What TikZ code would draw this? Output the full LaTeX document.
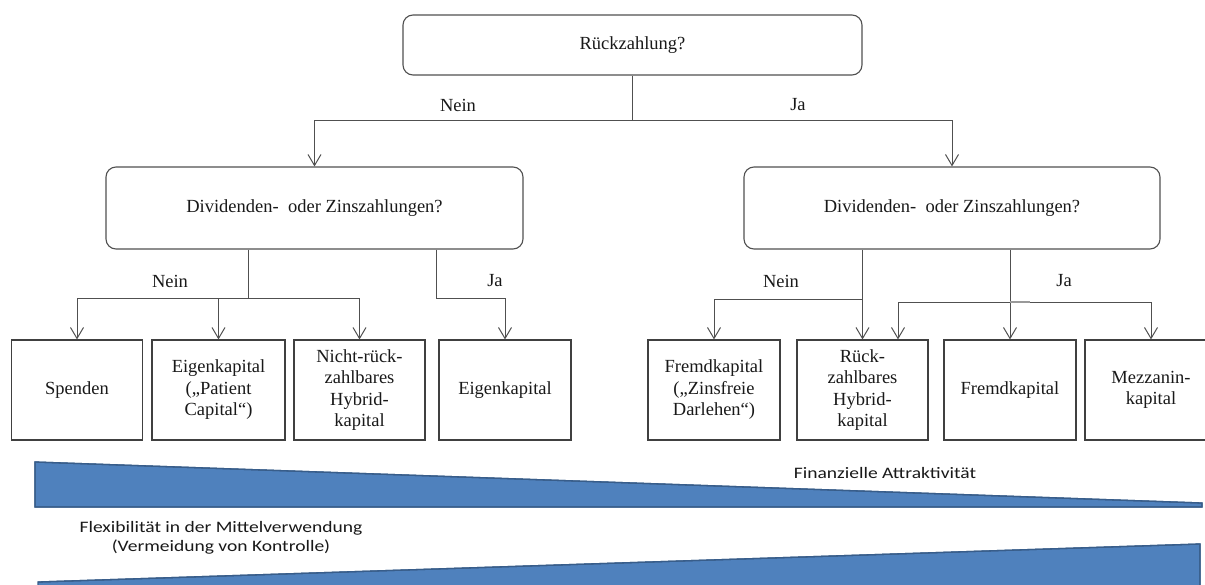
\documentclass[tikz,border=0pt]{standalone}
\usepackage{fontspec}
\setmainfont{Liberation Serif}
\newfontfamily\calib{Carlito}
\usetikzlibrary{arrows.meta}
\definecolor{linegray}{HTML}{505050}
\definecolor{wedgefill}{HTML}{4F81BD}
\definecolor{wedgeedge}{HTML}{385D8A}
\newcommand{\widetext}[1]{\scalebox{1.22}[1]{#1}}
\begin{document}
\begin{tikzpicture}[x=1pt,y=-1pt,
  every node/.style={font=\fontsize{18.5}{21.5}\selectfont, text=black!90},
  question/.style={draw=linegray, line width=1.1pt, rounded corners=10pt, inner sep=0pt},
  leaf/.style={draw=black!75, line width=1.1pt, inner sep=0pt, minimum height=100pt, align=center},
  conn/.style={draw=linegray, line width=1pt},
  arr/.style={conn, -{Straight Barb[length=11pt,width=13pt,line width=1pt]}},
  wedge/.style={fill=wedgefill, draw=wedgeedge, line width=1.3pt, line join=miter},
  scale label/.style={font=\calib\fontsize{16}{19}\selectfont, align=center}
]
\useasboundingbox (0,0) rectangle (1205,584);

% decision boxes
\node[question, minimum width=459pt, minimum height=60pt] (top) at (632.5,45) {Rückzahlung?};
\node[question, minimum width=417pt, minimum height=82pt] (midL) at (314.5,208) {Dividenden-\ \ oder Zinszahlungen?};
\node[question, minimum width=416pt, minimum height=82pt] (midR) at (952,208) {Dividenden-\ \ oder Zinszahlungen?};

% financing forms
\node[leaf, minimum width=131pt] (spenden) at (77,390) {Spenden};
\node[leaf, minimum width=133pt] (ekpc) at (218.5,390) {Eigenkapital\\(„Patient\\Capital“)};
\node[leaf, minimum width=131pt] (nicht) at (359.5,390) {Nicht-rück-\\zahlbares\\Hybrid-\\kapital};
\node[leaf, minimum width=132pt] (ek) at (505,390) {Eigenkapital};
\node[leaf, minimum width=132pt] (fzins) at (714,390) {Fremdkapital\\(„Zinsfreie\\Darlehen“)};
\node[leaf, minimum width=131pt] (rueck) at (862.5,390) {Rück-\\zahlbares\\Hybrid-\\kapital};
\node[leaf, minimum width=132pt] (fremd) at (1010,390) {Fremdkapital};
\node[leaf, minimum width=132pt] (mezz) at (1151,390) {Mezzanin-\\kapital};

% junction points
\coordinate (j0) at (632.5,120);
\coordinate (a1) at (248,298);
\coordinate (a2) at (436,298);
\coordinate (b1) at (862.5,299);
\coordinate (b2) at (1010,302);
\coordinate (b3) at ([xshift=35.5]rueck.north);

% first split
\draw[conn] (top) -- (j0);
\draw[arr] (j0) -| (midL);
\draw[arr] (j0) -| (midR);
\node at (458,105) {Nein};
\node at (798,105) {Ja};

% left split
\draw[conn] (midL.south -| a1) -- (a1);
\draw[arr] (a1) -| (spenden);
\draw[arr] (a1) -| (ekpc);
\draw[arr] (a1) -| (nicht);
\draw[conn] (midL.south -| a2) -- (a2);
\draw[arr] (a2) -| (ek);
\node at (170,281) {Nein};
\node at (495,281) {Ja};

% right split
\draw[arr] (midR.south -| rueck) -- (rueck);
\draw[arr] (b1) -| (fzins);
\draw[arr] (midR.south -| fremd) -- (fremd);
\draw[arr] (b2) -| (b3);
\draw[arr] (b2) -| (mezz);
\draw[draw=gray!80, line width=2pt] (b2) -- ++(20,0);
\node at (781,281) {Nein};
\node at (1064,281) {Ja};

% scales
\fill[wedge] (35,462) -- (1202,503) -- (1202,507) -- (35,507) -- cycle;
\fill[wedge] (38,582) -- (1200,544) -- (1200,586) -- (38,586) -- cycle;
\path[draw=wedgeedge, line width=1.3pt] (35,462) -- (1202,503) -- (1202,507) -- (35,507) -- cycle;
\path[draw=wedgeedge, line width=1.3pt] (38,582) -- (1200,544) -- (1200,586);
\node[scale label] (attr) at (885,473) {\widetext{Finanzielle Attraktivität}};
\node[scale label] (flex) at (221,538) {\widetext{Flexibilität in der Mittelverwendung}\\\widetext{(Vermeidung von Kontrolle)}};
\end{tikzpicture}
\end{document}
